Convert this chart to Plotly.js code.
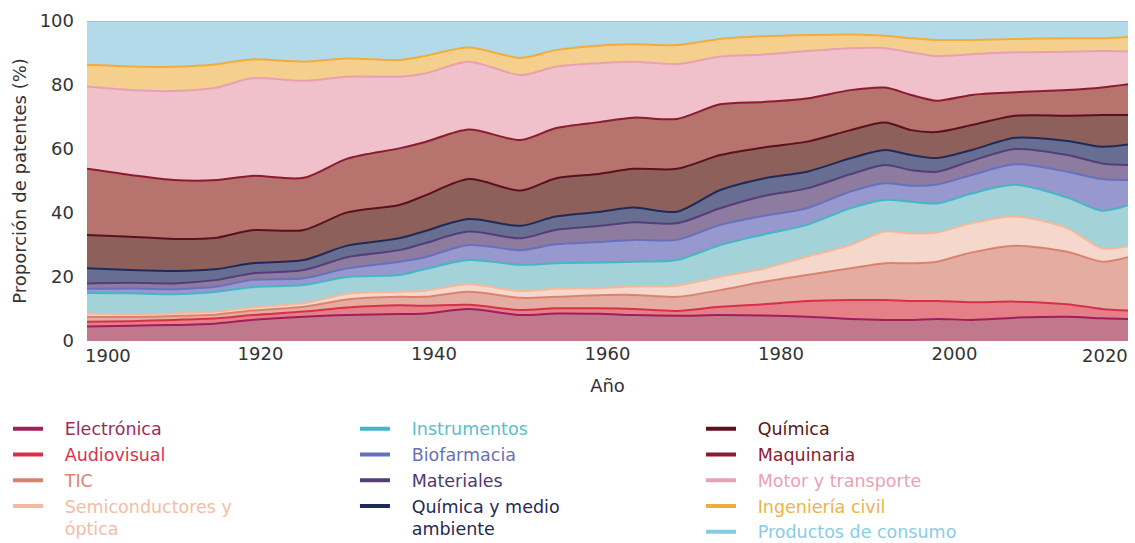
<!DOCTYPE html>
<html><head><meta charset="utf-8">
<script src="https://cdn.plot.ly/plotly-3.0.1.min.js"></script>
<style>html,body{margin:0;padding:0;background:#fff}#chart{width:1135px;height:543px}</style>
</head><body><div id="chart"></div>
<script>
// ---- data (shares in %, stacked bottom to top) ----
const years = [1900,1905,1910,1915,1919,1925,1930,1936,1939,1944,1950,1954,1959,1963,1968,1973,1978,1983,1988,1992,1995,1998,2002,2007,2013,2017,2020];
const electronica  = [4.5,4.8,5.0,5.5,6.6,7.6,8.1,8.4,8.6,10.0,8.1,8.6,8.5,8.1,7.9,8.1,8.0,7.6,6.9,6.6,6.6,6.9,6.6,7.3,7.6,7.1,6.9];
const audiovisual  = [1.5,1.4,1.6,1.6,1.5,1.6,2.4,2.8,2.4,1.3,1.6,1.6,1.7,1.9,1.5,2.6,3.5,4.9,5.9,6.2,5.9,5.6,5.5,5.0,3.9,2.9,2.6];
const tic          = [1.6,1.3,1.2,1.2,1.4,1.5,2.5,2.6,2.8,4.1,3.8,3.6,4.1,4.4,4.4,5.2,7.0,8.1,9.9,11.5,11.8,12.3,15.6,17.5,16.4,14.8,16.7];
const semiconductores = [1.0,0.8,0.8,0.9,1.0,1.1,1.7,1.6,1.9,2.3,2.1,2.5,2.2,2.6,3.5,4.2,4.1,5.8,7.3,9.9,9.3,9.1,9.1,9.1,7.3,4.2,3.4];
const instrumentos = [6.4,6.6,6.0,6.2,6.3,5.7,5.3,5.2,6.8,7.6,8.2,8.0,8.0,7.8,8.0,9.9,10.7,9.9,11.5,9.9,9.9,9.1,9.3,9.9,9.6,11.7,12.8];
const biofarmacia  = [1.3,1.5,1.6,1.6,2.3,2.1,2.7,4.2,3.7,4.7,4.6,5.9,6.4,6.8,6.3,6.3,5.8,5.2,5.2,5.2,5.0,5.9,5.8,6.4,8.1,9.9,7.9];
const materiales   = [1.7,1.8,1.8,2.1,2.0,2.6,3.5,3.6,4.4,4.2,3.7,4.5,5.0,5.5,5.2,5.2,6.2,6.2,5.4,5.7,4.9,4.0,4.4,4.8,5.2,4.9,4.7];
const quimicaMA    = [4.7,4.0,3.9,3.4,3.2,3.1,3.6,3.7,3.8,3.9,3.9,4.2,4.4,4.6,3.6,5.7,5.5,5.2,5.0,4.7,4.7,4.3,3.4,3.5,4.4,5.2,6.4];
const quimica      = [10.4,10.4,10.0,9.8,10.3,9.4,10.4,10.4,11.1,12.5,11.0,11.9,11.9,12.1,13.4,10.9,9.7,9.4,8.8,8.6,7.8,8.1,7.8,6.9,7.9,9.9,9.2];
const maquinaria   = [20.7,19.3,18.4,18.0,17.0,16.3,16.8,17.7,16.7,15.5,15.8,15.7,16.2,16.0,15.6,15.9,14.2,13.5,12.5,10.9,11.0,9.8,9.4,7.3,8.0,8.6,9.6];
const motor        = [25.7,26.5,27.8,28.9,30.5,30.3,25.6,22.4,21.4,21.2,20.3,19.2,18.4,17.5,17.1,14.9,14.8,14.8,13.1,12.3,13.3,13.9,12.7,12.5,12.0,11.4,10.3];
const ingenieria   = [6.8,7.4,7.6,7.3,5.9,6.0,5.7,5.2,5.5,4.4,5.4,5.2,5.5,5.4,6.0,5.5,5.7,5.0,4.3,3.9,4.4,5.1,4.5,4.2,4.2,4.0,4.5];
const consumo      = [13.7,14.2,14.3,13.5,12.0,12.7,11.7,12.2,10.9,8.3,11.5,9.1,7.7,7.3,7.5,5.6,4.8,4.4,4.2,4.6,5.4,5.9,5.9,5.6,5.4,5.4,5.0];

const categories = ['Electrónica','Audiovisual','TIC','Semiconductores y óptica','Instrumentos','Biofarmacia','Materiales','Química y medio ambiente','Química','Maquinaria','Motor y transporte','Ingeniería civil','Productos de consumo'];
const legendLines = [['Electrónica'],['Audiovisual'],['TIC'],['Semiconductores y','óptica'],['Instrumentos'],['Biofarmacia'],['Materiales'],['Química y medio','ambiente'],['Química'],['Maquinaria'],['Motor y transporte'],['Ingeniería civil'],['Productos de consumo']];
const seriesValues = [electronica,audiovisual,tic,semiconductores,instrumentos,biofarmacia,materiales,quimicaMA,quimica,maquinaria,motor,ingenieria,consumo];
const xTickVals = [1920,1940,1960,1980,2000];
const xEdgeTicks = [1900,2020];
const yTickVals = [0,20,40,60,80,100];

// ---- styles ----
const lineColors = ['#a01f5b','#d8304b','#d9836f','#f4b89c','#45b6c4','#6670bf','#553d78','#1e2b58','#5b101f','#8c1b30','#e9a1b1','#efad3c','#86cde2'];
const fillColors = ['#c1788c','#e58088','#e5ada1','#f5d8cb','#a4d2d9','#9698ce','#8d7ca0','#686e92','#8e605c','#b7736e','#f0c0cb','#f5cf8d','#b2dae8'];
const textColors = ['#9e2a5e','#d6344e','#d9836f','#f2bda6','#5bbecb','#6a70b8','#4f3a70','#1f2a55','#5a1420','#8a1c30','#eba2b2','#eeb24a','#88cde3'];
const legendOf = ['legend','legend','legend','legend','legend2','legend2','legend2','legend2','legend3','legend3','legend3','legend3','legend3'];

const NB = '\u00a0';
const traces = [];
seriesValues.forEach((vals, i) => {
  traces.push({
    type: 'scatter', mode: 'lines', x: years, y: vals, name: categories[i],
    stackgroup: 'one', fillcolor: fillColors[i],
    line: {color: lineColors[i], width: 2, shape: 'spline', smoothing: 0.8},
    showlegend: false, hoverinfo: 'x+y+name'
  });
});
categories.forEach((c, i) => {
  const label = legendLines[i].map(l => NB + NB + NB + '<span style="color:' + textColors[i] + '">' + l + '</span>').join('<br>');
  traces.push({
    type: 'scatter', mode: 'lines', x: [null], y: [null],
    name: label,
    line: {color: lineColors[i], width: 4},
    legend: legendOf[i], showlegend: true, hoverinfo: 'skip'
  });
});

const fam = 'DejaVu Sans, Liberation Sans, Arial, sans-serif';
const font = {family: fam, size: 18, color: '#333333'};
const legendBase = {orientation: 'v', yanchor: 'top', xanchor: 'left', y: -0.218, valign: 'top', traceorder: 'normal',
  font: {family: fam, size: 17.5}, itemwidth: 30, bgcolor: 'rgba(0,0,0,0)', tracegroupgap: 0};

// edge year labels are aligned inward, as in the reference
const edgeAnnotations = xEdgeTicks.map((yr, i) => ({
  x: yr, xref: 'x', y: 0, yref: 'paper', text: String(yr), showarrow: false,
  xanchor: i === 0 ? 'left' : 'right', xshift: i === 0 ? -4 : 2,
  yanchor: 'middle', yshift: -14, font: font
}));

const layout = {
  width: 1135, height: 543,
  margin: {l: 87, r: 7, t: 21, b: 202, autoexpand: false},
  paper_bgcolor: '#ffffff', plot_bgcolor: '#ffffff',
  font: font,
  showlegend: true,
  xaxis: {range: [1900, 2020], tickvals: xTickVals, showgrid: false, zeroline: false,
    showline: false, ticks: '', automargin: false, tickfont: font,
    title: {text: 'Año', font: font, standoff: 16}},
  yaxis: {range: [0, 100], tickvals: yTickVals, showgrid: false, zeroline: false, showline: false,
    ticks: '', automargin: false, tickfont: font, ticklabelstandoff: 12,
    title: {text: 'Proporción de patentes (%)', font: font, standoff: 8}},
  annotations: edgeAnnotations,
  legend: Object.assign({}, legendBase, {x: -0.0759}),
  legend2: Object.assign({}, legendBase, {x: 0.2574}),
  legend3: Object.assign({}, legendBase, {x: 0.5898})
};

Plotly.newPlot('chart', traces, layout, {displayModeBar: false, staticPlot: true});
</script>
</body></html>
